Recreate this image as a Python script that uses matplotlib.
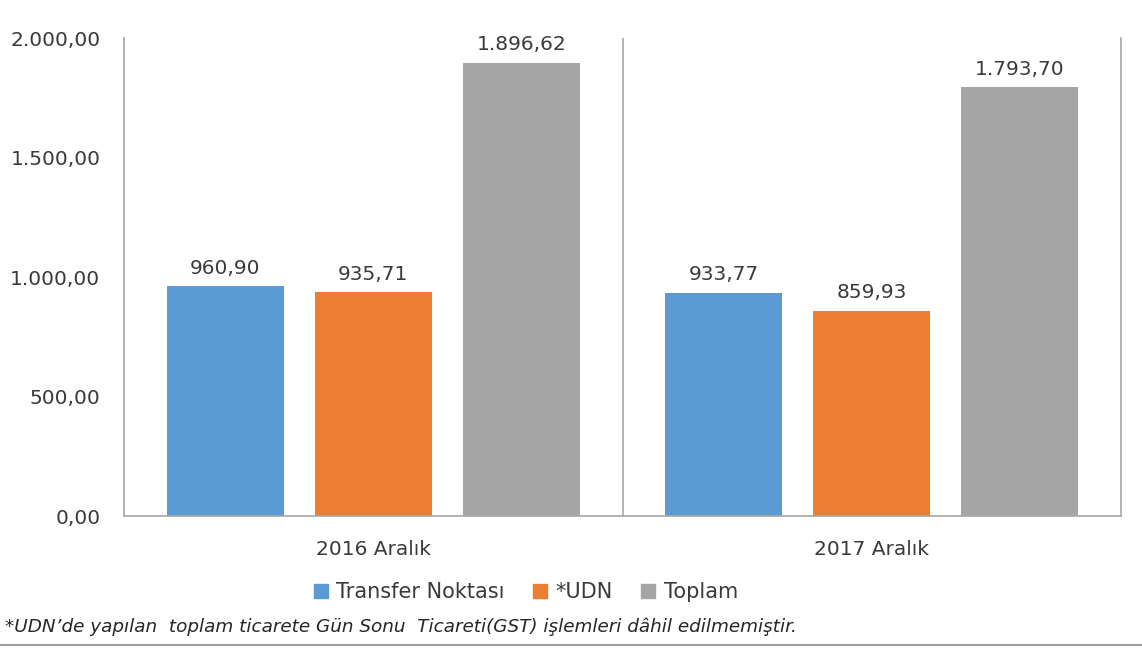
import numpy as np
import matplotlib.pyplot as plt
from matplotlib.lines import Line2D

categories = ["2016 Aralık", "2017 Aralık"]
series_names = ["Transfer Noktası", "*UDN", "Toplam"]
transfer = [960.90, 933.77]
udn = [935.71, 859.93]
toplam = [1896.62, 1793.70]
yticks = [0, 500, 1000, 1500, 2000]
footnote = "*UDN\u2019de yapılan  toplam ticarete Gün Sonu  Ticareti(GST) işlemleri dâhil edilmemiştir."

colors = ["#5B9BD5", "#ED7D31", "#A5A5A5"]
text_color = "#3A3A3A"
line_color = "#A6A6A6"


def fmt(v):
    s = "{:,.2f}".format(v)
    return s.replace(",", "X").replace(".", ",").replace("X", ".")


def main():
    plt.rcParams['font.family'] = ['DejaVu Sans']
    fig = plt.figure(figsize=(11.42, 6.49), dpi=100)
    ax = fig.add_axes([0.1086, 0.2049, 0.8730, 0.7365])

    x = np.arange(len(categories))
    offsets = [-0.297, 0.0, 0.297]
    width = 0.235
    for vals, off, c in zip([transfer, udn, toplam], offsets, colors):
        bars = ax.bar(x + off, vals, width, color=c)
        for b, v in zip(bars, vals):
            ax.text(b.get_x() + b.get_width() / 2, v + 35, fmt(v),
                    ha='center', va='bottom', fontsize=14.5, color=text_color)

    ax.set_xlim(-0.5, 1.5)
    ax.set_ylim(0, 2000)
    ax.set_yticks(yticks)
    ax.set_yticklabels([fmt(v) for v in yticks], fontsize=14.5, color=text_color)
    ax.set_xticks(x)
    ax.set_xticklabels(categories, fontsize=14.5, color=text_color)
    ax.tick_params(axis='both', length=0)
    ax.tick_params(axis='y', pad=17)
    ax.tick_params(axis='x', pad=17)
    ax.spines['top'].set_visible(False)
    for s in ['left', 'right', 'bottom']:
        ax.spines[s].set_color(line_color)
        ax.spines[s].set_linewidth(1.2)
    ax.axvline(0.5, color=line_color, linewidth=1.2)

    handles = [Line2D([], [], marker='s', linestyle='', markersize=10,
                      markerfacecolor=c, markeredgecolor=c) for c in colors]
    fig.legend(handles, series_names, loc='center', bbox_to_anchor=(0.459, 0.088),
               ncol=3, frameon=False, fontsize=15, labelcolor=text_color,
               handletextpad=0.25, columnspacing=1.2, handlelength=1.0)

    fig.text(0.004, 0.034, footnote, fontsize=13.2, style='italic',
             color='#262626', ha='left', va='center')
    fig.add_artist(Line2D([0, 1], [0.006, 0.006], transform=fig.transFigure,
                          color='#A0A0A0', linewidth=1.5))

    fig.savefig('out.png', dpi=100)


if __name__ == '__main__':
    main()
